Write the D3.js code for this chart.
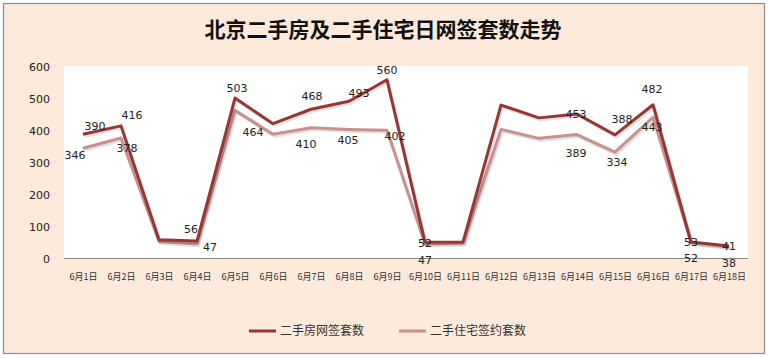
<!DOCTYPE html>
<html><head><meta charset="utf-8">
<script src="https://cdn.jsdelivr.net/npm/d3@7/dist/d3.min.js"></script>
<style>body{margin:0;background:#fff;}svg{display:block;}</style>
</head><body>
<svg id="c" width="768" height="358"></svg>
<script>
const title = "北京二手房及二手住宅日网签套数走势";
const categories = ["6月1日","6月2日","6月3日","6月4日","6月5日","6月6日","6月7日","6月8日","6月9日","6月10日","6月11日","6月12日","6月13日","6月14日","6月15日","6月16日","6月17日","6月18日"];
const seriesNames = ["二手房网签套数","二手住宅签约套数"];
const seriesA = [390,416,60,56,503,423,468,493,560,52,53,481,441,453,388,482,53,41];
const seriesB = [346,378,55,47,464,390,410,405,402,47,50,405,377,389,334,443,52,38];
const labeledA = [1,1,0,1,1,0,1,1,1,1,0,0,0,1,1,1,1,1];
const labeledB = [1,1,0,1,1,0,1,1,1,1,0,0,0,1,1,1,1,1];
const yTicks = [0,100,200,300,400,500,600];

// label offsets (layout only)
const offA = [[12,-8],[11,-11],[0,0],[-6,-12],[2,-10],[0,0],[1,-13],[10,-8],[0,-10],[0,1],[0,0],[0,0],[0,0],[-1,0],[7,-16],[-1,-16],[0,0],[0,0]];
const offB = [[-8,7],[6,10],[0,0],[13,3],[18,22],[0,0],[-5,16],[-1,11],[8,6],[0,16],[0,0],[0,0],[0,0],[-1,19],[2,10],[-1,10],[0,16],[0,16]];

const svg = d3.select("#c");
svg.append("rect").attr("x",3.5).attr("y",3.5).attr("width",761).attr("height",350)
  .attr("fill","#FDEADA").attr("stroke","#8c8c8c").attr("stroke-width",1.2);

const m = {l:64, r:748, t:66, b:258};
svg.append("rect").attr("x",m.l).attr("y",m.t).attr("width",m.r-m.l).attr("height",m.b-m.t).attr("fill","#ffffff");

svg.append("text").attr("x",383).attr("y",37).attr("text-anchor","middle")
  .attr("font-family","'Noto Sans CJK SC'").attr("font-weight","bold").attr("font-size",21)
  .attr("fill","#111").text(title);

const x = d3.scalePoint().domain(categories).range([m.l, m.r]).padding(0.5);
const y = d3.scaleLinear().domain([0,600]).range([m.b+1, m.t+1]);

const yAxis = d3.axisLeft(y).tickValues(yTicks).tickSize(0).tickPadding(14);
const gy = svg.append("g").attr("transform",`translate(${m.l},0)`).call(yAxis);
gy.select(".domain").remove();
gy.selectAll("text").attr("font-family","'DejaVu Sans'").attr("font-size",11).attr("fill","#222");

const xAxis = d3.axisBottom(x).tickSize(0).tickPadding(16);
const gx = svg.append("g").attr("transform",`translate(0,${m.b})`).call(xAxis);
gx.select(".domain").attr("stroke","#888").attr("d",`M${m.l},0.5H${m.r}`);
gx.selectAll("text").attr("font-family","'Noto Sans CJK SC'").attr("font-size",9).attr("fill","#333");

const colors = ["#953735","#C8908F"];
const line = d3.line().x((d,i)=>x(categories[i])).y(d=>y(d));

[seriesB, seriesA].forEach((s,k)=>{
  const col = k===0 ? colors[1] : colors[0];
  svg.append("path").datum(s).attr("d",line).attr("fill","none")
    .attr("stroke","#000").attr("stroke-opacity",0.12).attr("stroke-width",3)
    .attr("transform","translate(1.5,2)");
  svg.append("path").datum(s).attr("d",line).attr("fill","none")
    .attr("stroke",col).attr("stroke-width",3).attr("stroke-linejoin","round");
});

function labels(s, lab, off){
  s.forEach((v,i)=>{
    if(!lab[i]) return;
    svg.append("text").attr("x",x(categories[i])+off[i][0]).attr("y",y(v)+off[i][1])
      .attr("dy","0.35em").attr("text-anchor","middle")
      .attr("font-family","'DejaVu Sans'").attr("font-size",11).attr("fill","#222").text(v);
  });
}
labels(seriesA, labeledA, offA);
labels(seriesB, labeledB, offB);

const leg = [{x:249, name:seriesNames[0], c:colors[0]},{x:399, name:seriesNames[1], c:colors[1]}];
leg.forEach(d=>{
  svg.append("line").attr("x1",d.x).attr("x2",d.x+27).attr("y1",331).attr("y2",331)
    .attr("stroke",d.c).attr("stroke-width",3);
  svg.append("text").attr("x",d.x+31).attr("y",331).attr("dy","0.35em")
    .attr("font-family","'Noto Sans CJK SC'").attr("font-size",12).attr("fill","#333").text(d.name);
});
</script>
</body></html>
